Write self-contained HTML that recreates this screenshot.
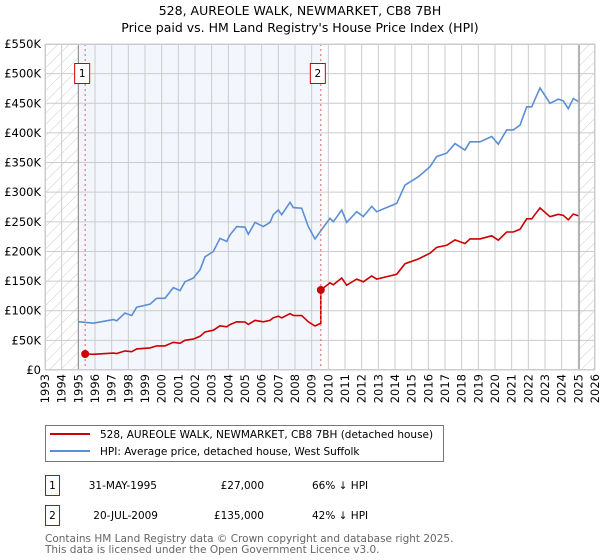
<!DOCTYPE html>
<html><head><meta charset="utf-8"><style>
body{margin:0;background:#fff;}
svg{display:block;font-family:"DejaVu Sans","Liberation Sans",sans-serif;}
</style></head><body>
<svg id="c" width="600" height="560" viewBox="0 0 600 560">
<text x="300" y="15" text-anchor="middle" font-size="12.5" fill="#000">528, AUREOLE WALK, NEWMARKET, CB8 7BH</text>
<text x="300" y="32" text-anchor="middle" font-size="12.5" fill="#000">Price paid vs. HM Land Registry's House Price Index (HPI)</text>
<defs><pattern id="h" width="8" height="8" patternUnits="userSpaceOnUse" patternTransform="rotate(45)"><line x1="0" y1="0" x2="0" y2="8" stroke="#ccc" stroke-width="1"/></pattern></defs>
<g id="plot"></g>
<g>
<rect x="45.5" y="425.5" width="398" height="36" fill="#fff" stroke="#777"/>
<line x1="50" y1="434" x2="90" y2="434" stroke="#cc0000" stroke-width="2"/>
<text x="100" y="438" font-size="10.5">528, AUREOLE WALK, NEWMARKET, CB8 7BH (detached house)</text>
<line x1="50" y1="451" x2="90" y2="451" stroke="#5b8fd4" stroke-width="2"/>
<text x="100" y="455" font-size="10.5">HPI: Average price, detached house, West Suffolk</text>
</g>
<g font-size="10.5">
<rect x="45.5" y="475.5" width="14" height="20" fill="#fff" stroke="#cc0000"/>
<text x="52.5" y="489" text-anchor="middle">1</text>
<text x="157" y="489" text-anchor="end">31-MAY-1995</text>
<text x="264" y="489" text-anchor="end">£27,000</text>
<text x="312" y="489">66% ↓ HPI</text>
<rect x="45.5" y="505.5" width="14" height="20" fill="#fff" stroke="#cc0000"/>
<text x="52.5" y="519" text-anchor="middle">2</text>
<text x="158" y="519" text-anchor="end">20-JUL-2009</text>
<text x="264" y="519" text-anchor="end">£135,000</text>
<text x="312" y="519">42% ↓ HPI</text>
</g>
<text x="45" y="542" font-size="10.5" fill="#666">Contains HM Land Registry data © Crown copyright and database right 2025.</text>
<text x="45" y="553" font-size="10.5" fill="#666">This data is licensed under the Open Government Licence v3.0.</text>
</svg>
<script>
const hpiYears=[1995.0,1995.9,1997.1,1997.3,1997.8,1998.2,1998.5,1999.3,1999.7,2000.2,2000.7,2001.1,2001.4,2001.9,2002.3,2002.6,2003.1,2003.5,2003.9,2004.1,2004.5,2005.0,2005.2,2005.6,2006.1,2006.5,2006.7,2007.0,2007.2,2007.7,2007.9,2008.4,2008.8,2009.2,2009.5,2010.1,2010.3,2010.8,2011.1,2011.7,2012.1,2012.6,2012.9,2014.1,2014.6,2015.4,2016.1,2016.5,2017.1,2017.6,2018.2,2018.5,2019.1,2019.8,2020.2,2020.7,2021.1,2021.5,2021.9,2022.2,2022.7,2023.3,2023.8,2024.1,2024.4,2024.7,2025.0];
const hpiValues=[81.5,79,85,83,96,92,106,111,121,121,139,134,149,155,169,191,200,222,217,228,242,241,229,249,242,249,262,270,262,283,274,273,242,221,233,256,250,270,249,267,259,276,267,281,312,326,343,360,366,382,371,385,385,394,381,405,405,413,444,444,476,450,457,454,441,458,453];
const saleYears=[1995.41,2009.55];
const salePrices=[27,135];
const yTicks=[0,50,100,150,200,250,300,350,400,450,500,550];
const yTickLabels=["£0","£50K","£100K","£150K","£200K","£250K","£300K","£350K","£400K","£450K","£500K","£550K"];
const xTicks=[1993,1994,1995,1996,1997,1998,1999,2000,2001,2002,2003,2004,2005,2006,2007,2008,2009,2010,2011,2012,2013,2014,2015,2016,2017,2018,2019,2020,2021,2022,2023,2024,2025,2026];
const dataStart=1995.0, dataEnd=2025.05;

const NS="http://www.w3.org/2000/svg";
const X0=45,X1=595,Y0=370,Y1=44;
const xs=y=>X0+(y-1993)/(2026-1993)*(X1-X0);
const ys=v=>Y0-v/550*(Y0-Y1);
const g=document.getElementById('plot');
function mk(t,a,p){const e=document.createElementNS(NS,t);for(const k in a)e.setAttribute(k,a[k]);(p||g).appendChild(e);return e;}
function hpiAt(t){for(let i=0;i<hpiYears.length-1;i++){if(t<=hpiYears[i+1]){const f=(t-hpiYears[i])/(hpiYears[i+1]-hpiYears[i]);return hpiValues[i]+f*(hpiValues[i+1]-hpiValues[i]);}}return hpiValues[hpiValues.length-1];}

let e=mk('rect',{x:X0,y:Y1,width:X1-X0,height:Y0-Y1,fill:'#fff'});

e=mk('rect',{x:xs(dataStart),y:Y1,width:xs(saleYears[1])-xs(dataStart),height:Y0-Y1,fill:'#f3f6fd'});

e=mk('rect',{x:X0,y:Y1,width:xs(dataStart)-X0,height:Y0-Y1,fill:'url(#h)'});

e=mk('rect',{x:xs(dataEnd),y:Y1,width:X1-xs(dataEnd),height:Y0-Y1,fill:'url(#h)'});


xTicks.forEach(t=>{const x=xs(t);
 let l=mk('line',{x1:x,y1:Y1,x2:x,y2:Y0,stroke:'#ccc','stroke-width':1});
 
 let tx=mk('text',{x:0,y:0,'text-anchor':'end','font-size':11.5,transform:'translate('+(x+4)+',374) rotate(-90)'});tx.textContent=t;
 
});
yTicks.forEach((v,i)=>{const y=ys(v);
 let l=mk('line',{x1:X0,y1:y,x2:X1,y2:y,stroke:'#ccc','stroke-width':1});
 
 let tx=mk('text',{x:41,y:y+4,'text-anchor':'end','font-size':11.5});tx.textContent=yTickLabels[i];
 
});
[dataStart,dataEnd].forEach(t=>{let l=mk('line',{x1:xs(t),y1:Y1,x2:xs(t),y2:Y0,stroke:'#888','stroke-width':1});
 });

let d=hpiYears.map((t,i)=>(i?'L':'M')+xs(t).toFixed(1)+','+ys(hpiValues[i]).toFixed(1)).join('');
e=mk('path',{d:d,fill:'none',stroke:'#5b8fd4','stroke-width':1.6});


const r1=salePrices[0]/hpiAt(saleYears[0]), r2=salePrices[1]/hpiAt(saleYears[1]);
let pts=[[saleYears[0],salePrices[0]]];
hpiYears.forEach((t,i)=>{if(t>saleYears[0]&&t<saleYears[1])pts.push([t,hpiValues[i]*r1]);});
pts.push([saleYears[1],hpiAt(saleYears[1])*r1]);
pts.push([saleYears[1],salePrices[1]]);
hpiYears.forEach((t,i)=>{if(t>saleYears[1])pts.push([t,hpiValues[i]*r2]);});
d=pts.map((p,i)=>(i?'L':'M')+xs(p[0]).toFixed(1)+','+ys(p[1]).toFixed(1)).join('');
e=mk('path',{d:d,fill:'none',stroke:'#cc0000','stroke-width':1.6});


saleYears.forEach((t,i)=>{const x=xs(t);
 let l=mk('line',{x1:x,y1:Y1,x2:x,y2:Y0,stroke:'#e06060','stroke-width':1,'stroke-dasharray':'2,3'});
 
 let c=mk('circle',{cx:x,cy:ys(salePrices[i]),r:4,fill:'#cc0000'});
 
 let b=mk('rect',{x:x-10.5,y:63.5,width:15,height:20,fill:'#fff',stroke:'#cc0000'});
 
 let tx=mk('text',{x:x-3,y:77,'text-anchor':'middle','font-size':10.5});tx.textContent=String(i+1);
 
});
e=mk('rect',{x:X0+.5,y:Y1+.5,width:X1-X0-1,height:Y0-Y1-1,fill:'none',stroke:'#ccc'});

</script>
</body></html>
